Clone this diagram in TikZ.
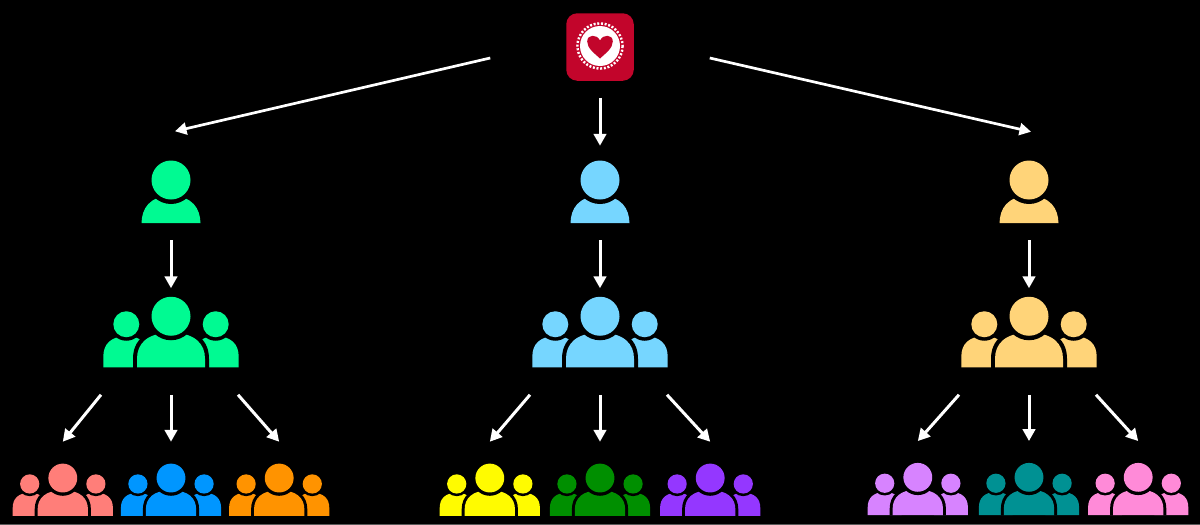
\documentclass[tikz,border=0pt]{standalone}
\usepackage{xcolor}
\usetikzlibrary{positioning}
\usetikzlibrary{arrows.meta}

\definecolor{seafoam}{HTML}{00FA92}
\definecolor{sky}{HTML}{76D6FF}
\definecolor{cantaloupe}{HTML}{FFD479}
\definecolor{salmon}{HTML}{FF7E79}
\definecolor{aqua}{HTML}{0096FF}
\definecolor{tangerine}{HTML}{FF9300}
\definecolor{lemon}{HTML}{FFFB00}
\definecolor{clover}{HTML}{008F00}
\definecolor{grape}{HTML}{9437FF}
\definecolor{lavender}{HTML}{D783FF}
\definecolor{tealgreen}{HTML}{009193}
\definecolor{carnation}{HTML}{FF8AD8}
\definecolor{badgered}{HTML}{C2052B}
\definecolor{edgegrey}{HTML}{5A5A5A}

\tikzset{
  leadbox/.style={inner sep=0pt, outer sep=0pt, minimum width=59pt, minimum height=63.5pt},
  teambox/.style={inner sep=0pt, outer sep=0pt, minimum width=135.4pt, minimum height=71pt},
  subbox/.style={inner sep=0pt, outer sep=0pt, minimum width=100.2pt, minimum height=52.5pt},
  rootbox/.style={inner sep=0pt, outer sep=0pt, minimum size=67.5pt, fill=badgered, rounded corners=11pt},
  link/.style={draw=white, line width=3pt, -{Triangle[length=12pt,width=12.5pt]}},
  longlink/.style={draw=white, line width=2.7pt, -{Triangle[length=11.5pt,width=12pt]}},
  leadicon/.pic={
    \fill[#1] (-29.5,31.5) .. controls (-29,17) and (-22,5) .. (0,4) .. controls (22,5) and (29,17) .. (29.5,31.5) -- cycle;
    \fill[black] (0,-11.5) circle[radius=24];
    \fill[#1] (0,-11.5) circle[radius=19.5];
  },
  teamicon/.pic={
    % side figures first
    \fill[#1] (-67.7,35.5) -- (-67.7,25) .. controls (-67.7,12) and (-60,5) .. (-45,4) .. controls (-34,4) and (-22,10) .. (-22,25) -- (-22,35.5) -- cycle;
    \fill[#1] (67.7,35.5) -- (67.7,25) .. controls (67.7,12) and (60,5) .. (45,4) .. controls (34,4) and (22,10) .. (22,25) -- (22,35.5) -- cycle;
    \fill[black] (-44.7,-7.5) circle[radius=16.5];
    \fill[black] (44.7,-7.5) circle[radius=16.5];
    \fill[#1] (-44.7,-7.5) circle[radius=13];
    \fill[#1] (44.7,-7.5) circle[radius=13];
    % middle figure on top
    \fill[black] (-38,36) -- (-38,27) .. controls (-38,9) and (-26,-3) .. (0,-3) .. controls (26,-3) and (38,9) .. (38,27) -- (38,36) -- cycle;
    \fill[#1] (-34,35.5) -- (-34,27) .. controls (-34,12) and (-24,1) .. (0,1) .. controls (24,1) and (34,12) .. (34,27) -- (34,35.5) -- cycle;
    \fill[black] (0,-15.5) circle[radius=24];
    \fill[#1] (0,-15.5) circle[radius=19.5];
  },
  hearticon/.pic={
    \fill[white] (0,-1) circle[radius=20];
    \draw[white, line width=2.4pt, dash pattern=on 2pt off 1.7pt] (0,-1) circle[radius=22.6];
    \fill[badgered] (0,11.5) .. controls (-6,6) and (-12.8,1) .. (-12.8,-5.5) .. controls (-12.8,-13) and (-3,-13) .. (0,-6.5) .. controls (3,-13) and (12.8,-13) .. (12.8,-5.5) .. controls (12.8,1) and (6,6) .. (0,11.5) -- cycle;
  },
}

\begin{document}
\begin{tikzpicture}[x=1pt, y=-1pt]
        \useasboundingbox (0,0) rectangle (1200,525);
        \fill[black] (0,0) rectangle (1200,525);
        \fill[edgegrey] (0,524) rectangle (1200,525);

        \node[rootbox]                       (root)   at (600,47) {};
        \node[leadbox]                       (lead1)  at (171,191.5) {};
        \node[leadbox]                       (lead2)  at (600,191.5) {};
        \node[leadbox]                       (lead3)  at (1029,191.5) {};
        \node[teambox, below=73pt of lead1]  (team1)  {};
        \node[teambox, below=73pt of lead2]  (team2)  {};
        \node[teambox, below=73pt of lead3]  (team3)  {};
        \node[subbox, below=96pt of team1]   (sub12)  {};
        \node[subbox, left=8pt of sub12]     (sub11)  {};
        \node[subbox, right=8pt of sub12]    (sub13)  {};
        \node[subbox, below=96pt of team2]   (sub22)  {};
        \node[subbox, left=10pt of sub22]    (sub21)  {};
        \node[subbox, right=10pt of sub22]   (sub23)  {};
        \node[subbox, below=95.3pt of team3] (sub32)  {};
        \node[subbox, left=11pt of sub32]    (sub31)  {};
        \node[subbox, right=9pt of sub32]    (sub33)  {};

        \pic at (root)  {hearticon};
        \pic at (lead1) {leadicon=seafoam};
        \pic at (lead2) {leadicon=sky};
        \pic at (lead3) {leadicon=cantaloupe};
        \pic at (team1) {teamicon=seafoam};
        \pic at (team2) {teamicon=sky};
        \pic at (team3) {teamicon=cantaloupe};
        \pic[scale=0.74] at (sub11) {teamicon=salmon};
        \pic[scale=0.74] at (sub12) {teamicon=aqua};
        \pic[scale=0.74] at (sub13) {teamicon=tangerine};
        \pic[scale=0.74] at (sub21) {teamicon=lemon};
        \pic[scale=0.74] at (sub22) {teamicon=clover};
        \pic[scale=0.74] at (sub23) {teamicon=grape};
        \pic[scale=0.74] at (sub31) {teamicon=lavender};
        \pic[scale=0.74] at (sub32) {teamicon=tealgreen};
        \pic[scale=0.74] at (sub33) {teamicon=carnation};

        \draw[longlink] ([xshift=-76pt,yshift=-11pt]root.west) -- ([xshift=4pt,yshift=28.5pt]lead1.north);
        \draw[link, shorten <=17pt, shorten >=14pt] (root.south) -- (lead2.north);
        \draw[longlink] ([xshift=76pt,yshift=-11pt]root.east) -- ([xshift=2pt,yshift=28pt]lead3.north);

        \draw[link, shorten <=17pt, shorten >=8pt] (lead1.south) -- (team1.north);
        \draw[link, shorten <=17pt, shorten >=8pt] (lead2.south) -- (team2.north);
        \draw[link, shorten <=17pt, shorten >=8pt] (lead3.south) -- (team3.north);

        \draw[link] ([xshift=-70pt,yshift=-27.5pt]team1.south) -- ([yshift=21.5pt]sub11.north);
        \draw[link, shorten <=27.5pt, shorten >=21.5pt] (team1.south) -- (sub12.north);
        \draw[link] ([xshift=67pt,yshift=-27.5pt]team1.south) -- ([yshift=21.5pt]sub13.north);

        \draw[link] ([xshift=-70pt,yshift=-27.5pt]team2.south) -- ([yshift=21.5pt]sub21.north);
        \draw[link, shorten <=27.5pt, shorten >=21.5pt] (team2.south) -- (sub22.north);
        \draw[link] ([xshift=67pt,yshift=-27.5pt]team2.south) -- ([yshift=21.5pt]sub23.north);

        \draw[link] ([xshift=-70pt,yshift=-27.5pt]team3.south) -- ([yshift=21.5pt]sub31.north);
        \draw[link, shorten <=27.5pt, shorten >=21.5pt] (team3.south) -- (sub32.north);
        \draw[link] ([xshift=67pt,yshift=-27.5pt]team3.south) -- ([yshift=21.5pt]sub33.north);

      \end{tikzpicture}
\end{document}
